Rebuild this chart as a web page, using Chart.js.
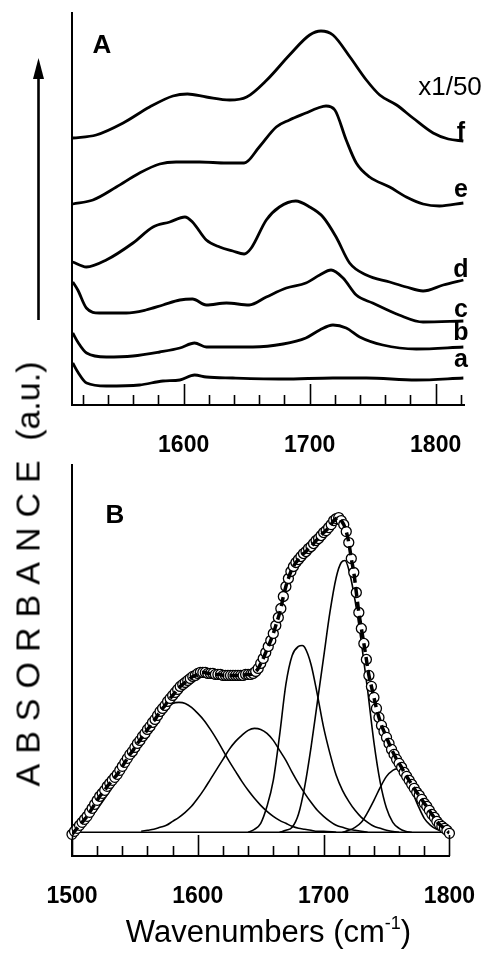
<!DOCTYPE html>
<html>
<head>
<meta charset="utf-8">
<script src="https://cdn.jsdelivr.net/npm/chart.js@4.4.1/dist/chart.umd.min.js"></script>
<style>
  html, body { margin:0; padding:0; background:#fff; }
  body { width:494px; height:959px; position:relative; overflow:hidden; font-family:'Liberation Sans', Arial, sans-serif; }
  canvas { position:absolute; left:0; }
  #ytitle { position:absolute; left:28px; top:574px; transform:translate(-50%,-50%) rotate(-90deg); white-space:nowrap; font-size:34px; line-height:39px; color:#000; }
  #ytitle .sp { letter-spacing:10px; }
  #xtitle { position:absolute; left:0; width:537px; top:916px; text-align:center; font-size:31px; line-height:31px; color:#000; white-space:nowrap; }
  #xtitle .sup { font-size:18px; position:relative; top:-13px; }
</style>
</head>
<body>
<canvas id="cA" width="494" height="459" style="top:0"></canvas>
<canvas id="cB" width="494" height="500" style="top:459px"></canvas>
<div id="ytitle"><span class="sp">ABSORBANCE</span> (a.u.)</div>
<div id="xtitle">Wavenumbers (cm<span class="sup">-1</span>)</div>
<script>
// ---------- Panel A : spectra a-f (wavenumber, absorbance a.u.) ----------
const wnF  = [1512,1530.6,1552,1573,1591.5,1603,1618,1636.5,1650,1666,1684,1700,1709,1718.5,1732,1745,1755.6,1769,1782,1798,1810,1822];
const absF = [2.67,2.70,2.82,2.98,3.09,3.11,3.08,3.05,3.08,3.25,3.50,3.70,3.74,3.70,3.48,3.25,3.10,3.00,2.87,2.72,2.66,2.64];
const wnE  = [1512,1528,1546.6,1565,1581,1594,1612.7,1634,1648,1660,1673.5,1684,1697,1706.6,1713,1720,1729,1737,1747.6,1763.5,1776.7,1790,1803,1822];
const absE = [2.01,2.05,2.18,2.32,2.41,2.43,2.43,2.42,2.42,2.58,2.78,2.85,2.92,2.97,2.99,2.95,2.65,2.42,2.28,2.18,2.08,2.01,1.99,2.02];
const wnD  = [1512,1522.8,1538.6,1559.8,1575.7,1589,1601,1607,1618,1628.6,1639,1648,1653.7,1665.6,1676,1689,1700,1710.6,1721,1731.7,1745,1763.5,1776.7,1790,1806,1822];
const absD = [1.43,1.38,1.45,1.62,1.78,1.83,1.88,1.83,1.65,1.58,1.54,1.51,1.57,1.85,1.98,2.04,1.98,1.88,1.68,1.42,1.30,1.23,1.18,1.14,1.20,1.25];
const wnC  = [1512,1516,1522.8,1533,1554.5,1570,1583.6,1597,1607,1618,1634,1652,1665.6,1681.5,1697,1708,1717,1726.5,1737,1750,1771,1790,1822];
const absC = [1.23,1.15,0.97,0.92,0.92,0.95,1.00,1.05,1.06,1.00,1.02,1.00,1.08,1.17,1.22,1.30,1.35,1.27,1.10,1.02,0.90,0.83,0.84];
const wnBb = [1512,1516,1523,1538.6,1559.8,1581,1597,1608.7,1618,1639,1655,1679,1697,1708,1718.5,1729,1739.7,1758,1784.6,1822];
const absBb= [0.72,0.63,0.52,0.48,0.49,0.53,0.57,0.62,0.58,0.58,0.58,0.61,0.67,0.75,0.80,0.77,0.68,0.60,0.56,0.58];
const wnA  = [1512,1516,1523,1538.6,1565,1583.6,1597,1608.7,1618,1639,1679,1718.5,1745,1784.6,1822];
const absA = [0.42,0.33,0.22,0.19,0.20,0.24,0.25,0.30,0.28,0.27,0.26,0.27,0.27,0.25,0.27];
const curveLetters = ['f','e','d','c','b','a'];
const majorTicksA = [1600,1700,1800];
const minorTicksA = [1520,1540,1560,1580,1620,1640,1660,1680,1720,1740,1760,1780,1820];

// ---------- Panel B : measured band (circles) and fitted components ----------
const wnObs = [1500,1502,1504,1506,1508,1510,1512,1514,1516,1518,1520,1522,1524,1526,1528,1530,1532,1534,1536,1538,
  1540,1542,1544,1546,1548,1550,1552,1554,1556,1558,1560,1562,1564,1566,1568,1570,1572,1574,1576,1578,
  1580,1582,1584,1586,1588,1590,1592,1594,1596,1598,1600,1602,1604,1606,1608,1610,1612,1614,1616,1618,
  1620,1622,1624,1626,1628,1630,1632,1634,1636,1638,1640,1642,1644,1646,1648,1650,1652,1654,1656,1658,
  1660,1662,1664,1666,1668,1670,1672,1674,1676,1678,1680,1682,1684,1686,1688,1690,1692,1694,1696,1698,
  1700,1702,1704,1706,1708,1710,1712,1714,1716,1718,1720,1722,1724,1726,1728,1730,1732,1734,1736,1738,
  1740,1742,1744,1746,1748,1750,1752,1754,1756,1758,1760,1762,1764,1766,1768,1770,1772,1774,1776,1778,
  1780,1782,1784,1786,1788,1790,1792,1794,1796,1798,1800];
const absObs = [-0.02,0.01,0.04,0.07,0.10,0.13,0.16,0.20,0.24,0.28,0.32,0.36,0.39,0.42,0.46,0.49,0.52,0.55,0.58,0.62,
  0.66,0.70,0.74,0.78,0.81,0.85,0.89,0.92,0.96,0.99,1.03,1.06,1.10,1.13,1.17,1.21,1.24,1.27,1.31,1.34,
  1.37,1.40,1.43,1.46,1.48,1.50,1.52,1.54,1.56,1.57,1.59,1.60,1.60,1.60,1.59,1.59,1.59,1.58,1.58,1.58,
  1.57,1.57,1.57,1.57,1.57,1.57,1.57,1.57,1.57,1.58,1.58,1.58,1.59,1.61,1.64,1.69,1.74,1.80,1.86,1.92,
  1.99,2.07,2.15,2.24,2.36,2.46,2.54,2.61,2.66,2.70,2.73,2.76,2.79,2.81,2.84,2.86,2.89,2.92,2.94,2.97,
  3.00,3.02,3.05,3.08,3.12,3.14,3.15,3.12,3.08,3.01,2.90,2.74,2.60,2.40,2.20,2.04,1.89,1.73,1.57,1.46,
  1.35,1.24,1.15,1.07,1.01,0.95,0.89,0.83,0.78,0.73,0.69,0.65,0.60,0.56,0.52,0.48,0.44,0.40,0.37,0.33,
  0.29,0.26,0.22,0.18,0.15,0.11,0.08,0.06,0.04,0.02,-0.01];
const wnG1 = [1500,1505,1510,1515,1520,1525,1530,1535,1540,1545,1550,1555,1560,1565,1570,1575,1580,1585,1590,1595,1600,1605,1610,1615,1620,1625,1630,1635,1640,1645,1650,1655,1660,1665,1670,1675,1680,1685,1690,1695,1700,1710];
const absG1= [0.01,0.04,0.09,0.15,0.23,0.32,0.41,0.51,0.61,0.71,0.82,0.93,1.03,1.12,1.19,1.25,1.29,1.30,1.29,1.25,1.19,1.12,1.03,0.93,0.82,0.71,0.61,0.51,0.42,0.34,0.27,0.21,0.16,0.12,0.09,0.06,0.04,0.03,0.02,0.01,0.01,0.00];
const wnG2 = [1555,1560,1565,1570,1575,1580,1585,1590,1595,1600,1605,1610,1615,1620,1625,1630,1635,1640,1645,1650,1655,1660,1665,1670,1675,1680,1685,1690,1695,1700,1705,1710,1715,1720,1725,1730,1735];
const absG2= [0.01,0.02,0.03,0.05,0.07,0.11,0.15,0.20,0.26,0.34,0.43,0.53,0.63,0.73,0.83,0.91,0.97,1.02,1.04,1.03,0.99,0.92,0.82,0.72,0.60,0.49,0.39,0.30,0.22,0.16,0.11,0.07,0.05,0.03,0.02,0.01,0.00];
const wnG3 = [1640,1645,1650,1655,1660,1665,1670,1675,1680,1683,1685,1690,1695,1700,1705,1710,1715,1720,1725,1730,1735,1740,1745,1750,1760];
const absG3= [0.00,0.03,0.09,0.26,0.52,0.97,1.48,1.77,1.86,1.87,1.85,1.68,1.38,1.05,0.79,0.57,0.42,0.31,0.22,0.15,0.10,0.06,0.04,0.02,0.00];
const wnG4 = [1665,1670,1675,1680,1685,1690,1695,1700,1705,1710,1714,1717,1720,1725,1730,1735,1740,1745,1750,1755,1760,1765,1770];
const absG4= [0.00,0.02,0.05,0.18,0.46,0.85,1.30,1.75,2.20,2.55,2.70,2.72,2.63,2.32,1.90,1.42,0.90,0.50,0.24,0.10,0.04,0.01,0.00];
const wnG5 = [1715,1720,1725,1730,1735,1740,1745,1750,1755,1758,1762,1765,1770,1775,1780,1785,1790,1795,1800];
const absG5= [0.00,0.02,0.05,0.10,0.20,0.32,0.45,0.56,0.62,0.635,0.60,0.55,0.42,0.27,0.14,0.07,0.03,0.01,0.00];
const wnBase = [1500,1800];
const absBase = [0,0];
const majorTicksB = [1500,1600,1700,1800];
const minorTicksB = [1520,1540,1560,1580,1620,1640,1660,1680,1720,1740,1760,1780];

// ---------- helpers ----------
const FONT = "'Liberation Sans', Arial, sans-serif";
const pairs = (xs, ys) => xs.map((x, i) => ({ x: x, y: ys[i] }));

const inTicks = {
  id: 'inTicks',
  afterDatasetsDraw(chart, args, o) {
    const { ctx, chartArea, scales } = chart;
    const x = scales.x;
    const b = chartArea.bottom;
    ctx.save();
    ctx.strokeStyle = '#000';
    ctx.lineWidth = 1.6;
    ctx.beginPath();
    o.minor.forEach(v => { const p = Math.round(x.getPixelForValue(v)) + 0.5; ctx.moveTo(p, b); ctx.lineTo(p, b - 10); });
    o.major.forEach(v => { const p = Math.round(x.getPixelForValue(v)) + 0.5; ctx.moveTo(p, b); ctx.lineTo(p, b - 21); });
    ctx.stroke();
    ctx.restore();
  }
};

const annot = {
  id: 'annot',
  afterDraw(chart, args, o) {
    const ctx = chart.ctx;
    ctx.save();
    ctx.fillStyle = '#000';
    ctx.textBaseline = 'alphabetic';
    (o.texts || []).forEach(t => {
      ctx.font = t.font;
      ctx.textAlign = t.align || 'center';
      ctx.fillText(t.t, t.x, t.y);
    });
    if (o.arrow) {
      const a = o.arrow;
      ctx.strokeStyle = '#000';
      ctx.lineWidth = 2.6;
      ctx.beginPath();
      ctx.moveTo(a.x, a.y1);
      ctx.lineTo(a.x, a.y0 + 16);
      ctx.stroke();
      ctx.beginPath();
      ctx.moveTo(a.x, a.y0);
      ctx.lineTo(a.x - 5.5, a.y0 + 21);
      ctx.lineTo(a.x + 5.5, a.y0 + 21);
      ctx.closePath();
      ctx.fill();
    }
    ctx.restore();
  }
};

function xScale(min, max, labels, h) {
  return {
    type: 'linear', min: min, max: max,
    afterBuildTicks: s => { s.ticks = labels.map(v => ({ value: v })); },
    afterFit: s => { s.height = h; },
    grid: { display: false },
    border: { display: true, color: '#000', width: 2 },
    ticks: { callback: v => String(v), color: '#000', font: { family: FONT, size: 23, weight: 'bold' }, padding: 19, maxRotation: 0, autoSkip: false }
  };
}
function yScale(min, max) {
  return {
    type: 'linear', min: min, max: max,
    afterFit: s => { s.width = 0; },
    grid: { display: false },
    border: { display: true, color: '#000', width: 2 },
    ticks: { display: false }
  };
}

// ---------- Panel A ----------
const seriesA = [[wnF, absF], [wnE, absE], [wnD, absD], [wnC, absC], [wnBb, absBb], [wnA, absA]];
new Chart(document.getElementById('cA'), {
  type: 'line',
  data: {
    datasets: seriesA.map(([xs, ys], i) => ({
      label: curveLetters[i], data: pairs(xs, ys), borderColor: '#000', borderWidth: 2.8,
      pointRadius: 0, fill: false, cubicInterpolationMode: 'monotone'
    }))
  },
  options: {
    responsive: false, animation: false, devicePixelRatio: 1,
    layout: { padding: { left: 72, right: 30, top: 13, bottom: 0 } },
    plugins: {
      legend: { display: false }, tooltip: { enabled: false },
      inTicks: { major: majorTicksA, minor: minorTicksA },
      annot: {
        texts: [
          { t: 'A', x: 102, y: 53, font: 'bold 26px ' + FONT },
          { t: 'x1/50', x: 450, y: 95, font: '26px ' + FONT },
          { t: curveLetters[0], x: 461, y: 140, font: 'bold 25px ' + FONT },
          { t: curveLetters[1], x: 461, y: 197, font: 'bold 25px ' + FONT },
          { t: curveLetters[2], x: 461, y: 277, font: 'bold 25px ' + FONT },
          { t: curveLetters[3], x: 461, y: 317, font: 'bold 25px ' + FONT },
          { t: curveLetters[4], x: 461, y: 340, font: 'bold 25px ' + FONT },
          { t: curveLetters[5], x: 461, y: 367, font: 'bold 25px ' + FONT }
        ],
        arrow: { x: 38.5, y0: 58, y1: 320 }
      }
    },
    scales: { x: xScale(1511.4, 1822.5, majorTicksA, 54), y: yScale(0, 3.92) }
  },
  plugins: [inTicks, annot]
});

// ---------- Panel B ----------
const comps = [[wnG1, absG1], [wnG2, absG2], [wnG3, absG3], [wnG4, absG4], [wnG5, absG5]];
const dsB = [
  { label: 'fit', data: pairs(wnObs, absObs), borderColor: '#000', borderWidth: 3.5, borderDash: [9, 5],
    pointRadius: 0, fill: false, cubicInterpolationMode: 'monotone', order: 0 },
  { label: 'measured', data: pairs(wnObs, absObs), showLine: false, pointRadius: 5, pointBorderWidth: 1.3,
    pointBackgroundColor: '#fff', pointBorderColor: '#000', order: 1, clip: false }
].concat(comps.map(([xs, ys], i) => ({
  label: 'G' + (i + 1), data: pairs(xs, ys), borderColor: '#000', borderWidth: 1.6,
  pointRadius: 0, fill: false, cubicInterpolationMode: 'monotone', order: 2
}))).concat([{
  label: 'baseline', data: pairs(wnBase, absBase), borderColor: '#000', borderWidth: 1.6, pointRadius: 0, fill: false, order: 3
}]);

new Chart(document.getElementById('cB'), {
  type: 'line',
  data: { datasets: dsB },
  options: {
    responsive: false, animation: false, devicePixelRatio: 1,
    layout: { padding: { left: 72, right: 29, top: 6, bottom: 0 } },
    plugins: {
      legend: { display: false }, tooltip: { enabled: false },
      inTicks: { major: majorTicksB, minor: minorTicksB },
      annot: { texts: [{ t: 'B', x: 115, y: 64, font: 'bold 26px ' + FONT }] }
    },
    scales: { x: xScale(1500, 1800, majorTicksB, 103), y: yScale(-0.237, 3.673) }
  },
  plugins: [inTicks, annot]
});
</script>
</body>
</html>
